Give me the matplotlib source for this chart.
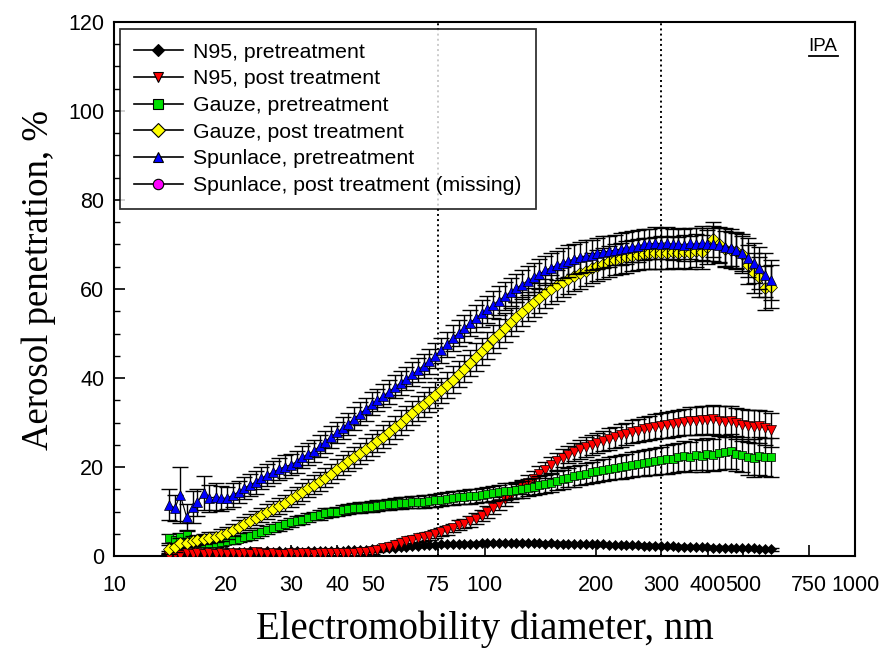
import matplotlib.pyplot as plt
from matplotlib.ticker import FixedLocator, FixedFormatter, MultipleLocator, NullLocator

# SMPS channel midpoints, nm
diameter = [
    14.1, 14.6, 15.1, 15.7, 16.3, 16.8, 17.5, 18.1, 18.8, 19.5,
    20.2, 20.9, 21.7, 22.5, 23.3, 24.1, 25.0, 25.9, 26.9, 27.9,
    28.9, 30.0, 31.1, 32.2, 33.4, 34.6, 35.9, 37.2, 38.5, 40.0,
    41.4, 42.9, 44.5, 46.1, 47.8, 49.6, 51.4, 53.3, 55.2, 57.3,
    59.4, 61.5, 63.8, 66.1, 68.5, 71.0, 73.7, 76.4, 79.1, 82.0,
    85.1, 88.2, 91.4, 94.7, 98.2, 101.8, 105.5, 109.4, 113.4, 117.6,
    121.9, 126.3, 131.0, 135.8, 140.7, 145.9, 151.2, 156.8, 162.5, 168.5,
    174.7, 181.1, 187.7, 194.6, 201.7, 209.1, 216.7, 224.7, 232.9, 241.4,
    250.3, 259.5, 269.0, 278.8, 289.0, 299.6, 310.6, 322.0, 333.8, 346.0,
    358.7, 371.8, 385.4, 399.5, 414.2, 429.4, 445.1, 461.4, 478.3, 495.8,
    514.0, 532.8, 552.3, 572.5, 593.5,
]

n95_pre = [
    0.9, 0.8, 0.9, 1.0, 0.9, 1.0, 0.9, 1.0, 0.9, 1.0,
    1.0, 0.9, 1.0, 1.0, 1.1, 1.0, 1.0, 1.1, 1.0, 1.1,
    1.0, 1.1, 1.1, 1.0, 1.1, 1.1, 1.2, 1.1, 1.2, 1.2,
    1.2, 1.3, 1.3, 1.4, 1.4, 1.5, 1.6, 1.7, 1.8, 1.9,
    2.0, 2.1, 2.2, 2.3, 2.4, 2.5, 2.5, 2.6, 2.6, 2.7,
    2.7, 2.8, 2.8, 2.8, 2.9, 2.9, 2.9, 2.9, 3.0, 2.9,
    2.9, 3.0, 2.9, 2.9, 2.9, 2.8, 2.9, 2.8, 2.8, 2.8,
    2.7, 2.7, 2.7, 2.6, 2.6, 2.6, 2.5, 2.5, 2.5, 2.4,
    2.4, 2.4, 2.3, 2.3, 2.3, 2.2, 2.2, 2.2, 2.1, 2.1,
    2.1, 2.0, 2.0, 2.0, 1.9, 1.9, 1.9, 1.8, 1.8, 1.8,
    1.7, 1.7, 1.6, 1.6, 1.5,
]
n95_pre_err = [
    0.3, 0.3, 0.3, 0.3, 0.3, 0.3, 0.3, 0.3, 0.3, 0.3,
    0.3, 0.3, 0.3, 0.3, 0.3, 0.3, 0.3, 0.3, 0.3, 0.3,
    0.3, 0.3, 0.3, 0.3, 0.3, 0.3, 0.3, 0.3, 0.3, 0.3,
    0.3, 0.3, 0.3, 0.3, 0.3, 0.3, 0.3, 0.3, 0.3, 0.3,
    0.3, 0.3, 0.3, 0.3, 0.3, 0.3, 0.3, 0.3, 0.3, 0.3,
    0.3, 0.3, 0.3, 0.3, 0.3, 0.3, 0.3, 0.3, 0.3, 0.3,
    0.3, 0.3, 0.3, 0.3, 0.3, 0.3, 0.3, 0.3, 0.3, 0.3,
    0.3, 0.3, 0.3, 0.3, 0.3, 0.3, 0.3, 0.3, 0.3, 0.3,
    0.3, 0.3, 0.3, 0.3, 0.3, 0.3, 0.3, 0.3, 0.3, 0.3,
    0.3, 0.3, 0.3, 0.3, 0.3, 0.3, 0.3, 0.3, 0.3, 0.3,
    0.3, 0.3, 0.3, 0.3, 0.3,
]

n95_post = [
    0.0, 0.5, 0.3, 0.6, 0.4, 0.7, 0.5, 0.6, 0.4, 0.6,
    0.5, 0.7, 0.4, 0.6, 0.5, 0.8, 0.6, 0.4, 0.7, 0.5,
    0.4, 0.6, 0.5, 0.7, 0.6, 0.5, 0.6, 0.7, 0.6, 0.6,
    0.7, 0.6, 0.7, 0.8, 0.9, 1.1, 1.4, 1.7, 2.1, 2.5,
    2.9, 3.3, 3.7, 4.0, 4.3, 4.6, 5.0, 5.4, 5.8, 6.3,
    6.9, 7.3, 7.8, 8.4, 9.1, 9.9, 10.8, 11.8, 12.8, 13.7,
    14.6, 15.5, 16.4, 17.4, 18.4, 19.4, 20.4, 21.3, 22.1, 22.8,
    23.4, 24.0, 24.5, 24.9, 25.4, 25.8, 26.3, 26.7, 27.1, 27.5,
    27.9, 28.2, 28.5, 28.8, 29.1, 29.3, 29.4, 29.7, 29.9, 30.1,
    30.3, 30.4, 30.6, 30.5, 30.7, 30.4, 30.2, 30.3, 29.8, 29.5,
    29.3, 29.0, 29.2, 28.8, 28.3,
]
n95_post_err = [
    0.5, 0.5, 0.5, 0.5, 0.5, 0.5, 0.5, 0.5, 0.5, 0.5,
    0.5, 0.5, 0.5, 0.5, 0.5, 0.5, 0.5, 0.5, 0.5, 0.5,
    0.5, 0.5, 0.5, 0.5, 0.5, 0.5, 0.5, 0.5, 0.5, 0.5,
    0.5, 0.5, 0.5, 0.5, 0.5, 0.6, 0.6, 0.6, 0.7, 0.7,
    0.7, 0.8, 0.8, 0.8, 0.9, 0.9, 0.9, 1.0, 1.0, 1.0,
    1.1, 1.1, 1.2, 1.2, 1.3, 1.3, 1.4, 1.4, 1.5, 1.5,
    1.6, 1.6, 1.7, 1.7, 1.8, 1.8, 1.9, 1.9, 2.0, 2.0,
    2.1, 2.1, 2.2, 2.2, 2.3, 2.3, 2.4, 2.4, 2.5, 2.5,
    2.6, 2.6, 2.7, 2.7, 2.8, 2.8, 2.9, 2.9, 3.0, 3.0,
    3.1, 3.1, 3.2, 3.2, 3.3, 3.3, 3.4, 3.5, 3.5, 3.6,
    3.6, 3.7, 3.7, 3.8, 3.8,
]

gauze_pre = [
    4.0, 3.6, 4.2, 4.7, 3.5, 3.0, 2.9, 3.0, 2.9, 3.1,
    3.4, 3.6, 3.9, 4.3, 4.6, 5.0, 5.4, 5.8, 6.3, 6.7,
    7.1, 7.6, 7.9, 8.2, 8.6, 9.0, 9.3, 9.6, 9.8, 10.0,
    10.3, 10.6, 10.8, 10.9, 11.0, 11.1, 11.3, 11.5, 11.6, 11.8,
    11.9, 12.0, 12.1, 12.1, 12.2, 12.4, 12.5, 12.7, 12.9, 13.0,
    13.2, 13.3, 13.4, 13.5, 13.7, 13.9, 14.1, 14.3, 14.5, 14.7,
    14.8, 15.0, 15.3, 15.6, 15.9, 16.2, 16.5, 16.9, 17.2, 17.6,
    17.9, 18.2, 18.5, 18.8, 19.1, 19.4, 19.6, 19.8, 20.1, 20.3,
    20.5, 20.7, 20.9, 21.1, 21.3, 21.5, 21.7, 21.9, 22.2, 22.5,
    22.3, 22.8, 22.5, 23.0, 22.7, 23.2, 23.4, 23.5, 23.0, 22.8,
    22.3, 22.0, 22.4, 22.3, 22.2,
]
gauze_pre_err = [
    1.0, 0.9, 1.0, 1.0, 0.9, 0.8, 0.8, 0.8, 0.8, 0.8,
    0.8, 0.8, 0.8, 0.9, 0.9, 0.9, 0.9, 0.9, 0.9, 1.0,
    1.0, 1.0, 1.0, 1.0, 1.0, 1.0, 1.1, 1.1, 1.1, 1.1,
    1.1, 1.1, 1.1, 1.2, 1.2, 1.2, 1.2, 1.2, 1.2, 1.3,
    1.3, 1.3, 1.3, 1.3, 1.4, 1.4, 1.4, 1.4, 1.5, 1.5,
    1.5, 1.5, 1.6, 1.6, 1.6, 1.7, 1.7, 1.7, 1.8, 1.8,
    1.8, 1.9, 1.9, 2.0, 2.0, 2.0, 2.1, 2.1, 2.2, 2.2,
    2.3, 2.3, 2.4, 2.4, 2.5, 2.5, 2.6, 2.6, 2.7, 2.7,
    2.8, 2.8, 2.9, 3.0, 3.0, 3.1, 3.2, 3.2, 3.3, 3.4,
    3.4, 3.5, 3.6, 3.6, 3.7, 3.8, 3.8, 3.9, 4.0, 4.0,
    4.1, 4.2, 4.3, 4.3, 4.4,
]

gauze_post = [
    1.5, 2.0, 2.9, 3.0, 3.4, 3.6, 3.8, 4.1, 4.3, 4.7,
    5.2, 5.9, 6.6, 7.3, 7.9, 8.6, 9.3, 10.0, 10.6, 11.2,
    12.0, 12.9, 13.6, 14.4, 15.3, 16.0, 16.8, 17.6, 18.5, 19.5,
    20.4, 21.3, 22.2, 23.1, 24.0, 25.0, 25.9, 26.8, 27.8, 28.9,
    30.0, 31.0, 32.1, 33.2, 34.1, 35.1, 36.1, 37.2, 38.4, 39.6,
    40.9, 42.1, 43.4, 44.7, 46.0, 47.3, 48.7, 50.0, 51.3, 52.6,
    53.8, 54.9, 56.0, 57.0, 58.0, 59.0, 59.9, 60.8, 61.6, 62.3,
    62.9, 63.5, 64.1, 64.7, 65.2, 65.7, 66.2, 66.6, 66.9, 67.2,
    67.5, 67.7, 67.9, 68.0, 68.1, 68.2, 68.0, 68.3, 68.0, 68.4,
    68.1, 68.6, 68.3, 69.5, 71.2, 70.0, 69.0, 68.8, 68.5, 67.8,
    65.5, 63.6, 62.7, 60.2, 60.5,
]
gauze_post_err = [
    1.0, 1.0, 1.1, 1.0, 1.1, 1.2, 1.1, 1.2, 1.2, 1.3,
    1.3, 1.4, 1.4, 1.5, 1.5, 1.6, 1.6, 1.7, 1.7, 1.8,
    1.8, 1.9, 1.9, 2.0, 2.0, 2.1, 2.1, 2.2, 2.2, 2.3,
    2.3, 2.3, 2.4, 2.4, 2.5, 2.5, 2.5, 2.6, 2.6, 2.6,
    2.7, 2.7, 2.7, 2.8, 2.8, 2.8, 2.9, 2.9, 2.9, 3.0,
    3.0, 3.0, 3.0, 3.1, 3.1, 3.1, 3.1, 3.2, 3.2, 3.2,
    3.2, 3.2, 3.3, 3.3, 3.3, 3.3, 3.3, 3.4, 3.4, 3.4,
    3.4, 3.4, 3.4, 3.4, 3.5, 3.5, 3.5, 3.5, 3.5, 3.5,
    3.5, 3.5, 3.5, 3.5, 3.6, 3.6, 3.6, 3.6, 3.6, 3.7,
    3.7, 3.7, 3.8, 3.8, 3.9, 4.0, 4.0, 4.1, 4.1, 4.2,
    4.3, 4.4, 4.5, 5.0, 4.8,
]

spunlace_pre = [
    11.5, 10.8, 13.7, 8.8, 11.0, 12.1, 14.2, 13.0, 13.3, 13.0,
    13.0, 13.7, 14.4, 15.3, 16.0, 16.6, 17.5, 18.2, 18.9, 19.5,
    20.1, 20.5, 21.2, 22.2, 22.9, 23.6, 24.7, 25.7, 26.8, 27.8,
    28.8, 29.7, 30.9, 32.0, 33.0, 34.2, 35.0, 36.0, 36.9, 38.0,
    38.9, 39.8, 40.8, 41.8, 42.8, 43.8, 45.0, 46.2, 47.6, 49.0,
    50.1, 51.2, 52.4, 53.4, 54.5, 55.4, 56.5, 57.4, 58.4, 59.3,
    60.2, 61.0, 61.9, 62.6, 63.4, 64.2, 64.8, 65.3, 65.8, 66.3,
    66.8, 67.1, 67.4, 67.7, 68.0, 68.3, 68.5, 68.7, 69.0, 69.3,
    69.5, 69.7, 70.0, 70.1, 70.3, 70.2, 70.4, 70.0, 70.2, 69.9,
    70.3, 70.0, 70.4, 70.0, 70.2, 69.8, 69.4, 69.3, 68.8, 68.2,
    67.0, 65.8, 64.7, 63.2, 62.0,
]
spunlace_pre_err = [
    3.5, 3.0, 6.2, 3.0, 3.5, 3.0, 3.8, 3.0, 3.0, 2.8,
    2.5, 2.6, 2.5, 2.4, 2.5, 2.6, 2.5, 2.5, 2.4, 2.5,
    2.5, 2.4, 2.5, 2.5, 2.4, 2.5, 2.4, 2.5, 2.5, 2.4,
    2.5, 2.5, 2.6, 2.5, 2.6, 2.6, 2.5, 2.6, 2.7, 2.6,
    2.7, 2.6, 2.7, 2.8, 2.7, 2.8, 2.8, 2.9, 2.8, 2.9,
    2.9, 3.0, 2.9, 3.0, 3.1, 3.0, 3.1, 3.2, 3.1, 3.2,
    3.2, 3.3, 3.2, 3.3, 3.4, 3.3, 3.4, 3.3, 3.4, 3.5,
    3.4, 3.5, 3.5, 3.4, 3.5, 3.6, 3.5, 3.4, 3.5, 3.6,
    3.5, 3.6, 3.5, 3.4, 3.6, 3.5, 3.6, 3.4, 3.5, 3.6,
    3.5, 3.6, 3.8, 3.7, 3.9, 4.0, 4.2, 4.1, 4.0, 4.2,
    4.4, 4.5, 4.8, 5.0, 4.5,
]

labels = [
    "N95, pretreatment",
    "N95, post treatment",
    "Gauze, pretreatment",
    "Gauze, post treatment",
    "Spunlace, pretreatment",
    "Spunlace, post treatment (missing)",
]
colors = ["#000000", "#ff0000", "#00e000", "#ffff00", "#0000ff", "#ff00ff"]
markers = ["D", "v", "s", "D", "^", "o"]

x_ticks = [10, 20, 30, 40, 50, 75, 100, 200, 300, 400, 500, 750, 1000]
x_tick_labels = ["10", "20", "30", "40", "50", "75", "100", "200", "300", "400", "500", "750", "1000"]
ref_lines = [75, 300]

series = [
    (n95_pre, n95_pre_err),
    (n95_post, n95_post_err),
    (gauze_pre, gauze_pre_err),
    (gauze_post, gauze_post_err),
    (spunlace_pre, spunlace_pre_err),
]

plt.rcParams['font.family'] = ['Liberation Sans', 'DejaVu Sans']
serif = ['Liberation Serif', 'DejaVu Serif']

fig = plt.figure(figsize=(8.83, 6.56), dpi=100)
ax = fig.add_axes([0.1291, 0.1524, 0.8392, 0.8141])

sizes = [5.0, 6.5, 5.5, 6.0, 6.5, 6.5]
legend_sizes = [6.5, 7.5, 7.0, 7.5, 7.5, 7.5]
for i, (vals, errs) in enumerate(series):
    ax.errorbar(diameter, vals, yerr=errs, fmt='none', ecolor='black',
                elinewidth=1.0, capsize=5.5, capthick=1.0, zorder=2 + i)
    ax.plot(diameter, vals, color='black', lw=0.8, marker=markers[i],
            markersize=sizes[i], markerfacecolor=colors[i],
            markeredgecolor='black', markeredgewidth=0.5, zorder=2.5 + i)

# legend handles (the last series has no data)
handles = []
for i in range(len(labels)):
    h, = ax.plot([], [], color='black', lw=1.2, marker=markers[i],
                 markersize=legend_sizes[i], markerfacecolor=colors[i],
                 markeredgecolor='black', markeredgewidth=0.8)
    handles.append(h)

for xv in ref_lines:
    ax.axvline(xv, color='black', ls=':', lw=1.4, zorder=1)

ax.set_xscale('log')
ax.set_xlim(10, 1000)
ax.set_ylim(0, 120)
ax.xaxis.set_major_locator(FixedLocator(x_ticks))
ax.xaxis.set_major_formatter(FixedFormatter(x_tick_labels))
ax.xaxis.set_minor_locator(NullLocator())
ax.yaxis.set_major_locator(MultipleLocator(20))
ax.yaxis.set_minor_locator(MultipleLocator(5))

ax.tick_params(axis='both', which='major', direction='in', length=8, width=1.2,
               labelsize=15.5)
ax.tick_params(axis='x', which='major', pad=14)
ax.tick_params(axis='y', which='major', pad=7)
ax.tick_params(axis='y', which='minor', direction='in', length=4.5, width=1.0)
for s in ax.spines.values():
    s.set_linewidth(1.5)

ax.set_xlabel('Electromobility diameter, nm', family=serif, fontsize=28, labelpad=10)
ax.set_ylabel('Aerosol penetration, %', family=serif, fontsize=26.5)
ax.yaxis.set_label_coords(-0.078, 0.517)

leg = ax.legend(handles, labels, loc='upper left', bbox_to_anchor=(0.008, 0.987),
                fontsize=15.3, frameon=True, fancybox=False, edgecolor='black',
                handlelength=2.3, handletextpad=0.5, labelspacing=0.36,
                borderpad=0.65, borderaxespad=0.0)
leg.get_frame().set_linewidth(1.3)
leg.set_zorder(20)

t = ax.text(0.957, 0.97, 'IPA', transform=ax.transAxes, ha='center', va='top',
            fontsize=13.5)
fig.canvas.draw()
bb = t.get_window_extent().transformed(ax.transAxes.inverted())
ax.plot([bb.x0, bb.x1], [bb.y0 - 0.002, bb.y0 - 0.002], transform=ax.transAxes,
        color='black', lw=1.3, clip_on=False)

fig.savefig('out.png', dpi=100)
